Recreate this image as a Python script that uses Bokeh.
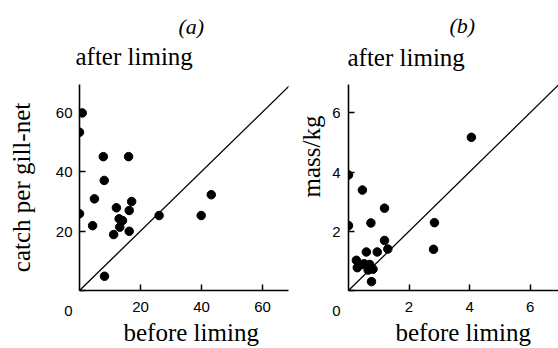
from bokeh.plotting import figure
from bokeh.models import Range1d, Title, FixedTicker
from bokeh.layouts import row
from bokeh.embed import file_html
from bokeh.resources import INLINE

# ---------------- data ----------------
# panel (a): catch per gill-net
xa = [0.9, 0.0, 7.8, 16.1, 8.1, 4.9, 0.0, 4.3, 12.1, 17.1, 16.3, 13.0, 14.1, 13.2, 11.2, 16.3, 26.1, 39.9, 43.2, 8.2]
ya = [59.7, 53.2, 45.0, 45.0, 37.0, 30.8, 25.8, 21.8, 27.8, 29.9, 26.9, 24.1, 23.5, 21.3, 18.8, 19.9, 25.2, 25.2, 32.2, 4.8]
ticks_a = [20, 40, 60]

# panel (b): mass / kg
xb = [4.06, 0.0, 0.46, 1.19, 0.74, 0.0, 2.84, 1.19, 1.30, 2.81, 0.59, 0.95,
      0.26, 0.29, 0.46, 0.70, 0.65, 0.81, 0.76, 0.52]
yb = [5.17, 3.90, 3.39, 2.78, 2.28, 2.19, 2.29, 1.69, 1.40, 1.39, 1.30, 1.30,
      1.02, 0.77, 0.88, 0.88, 0.69, 0.72, 0.30, 0.90]
ticks_b = [2, 4, 6]

line_a = [0, 80]
line_b = [0, 8]

SERIF = "Liberation Serif"
SANS = "Liberation Sans"


def title(p, text, side, align, offset, standoff, size="25px", style="normal"):
    t = Title(text=text, align=align, offset=offset, standoff=standoff,
              text_font=SERIF, text_font_size=size, text_font_style=style,
              text_color="black")
    p.add_layout(t, side)


def make_panel(width, bl, br, bt, bb, xmax, ymax, xs, ys, ticks, line, ystandoff):
    p = figure(width=width, height=348, output_backend="svg", toolbar_location=None,
               title=None,
               x_range=Range1d(0, xmax), y_range=Range1d(0, ymax),
               min_border_left=bl, min_border_right=br,
               min_border_top=bt, min_border_bottom=bb)
    p.outline_line_color = None
    p.grid.visible = False
    p.background_fill_color = "white"
    p.border_fill_color = "white"
    p.xaxis[0].ticker = FixedTicker(ticks=ticks)
    p.yaxis[0].ticker = FixedTicker(ticks=[0] + ticks)
    p.yaxis[0].major_label_overrides = {0: "\n\n0"}
    for ax in (p.xaxis[0], p.yaxis[0]):
        ax.axis_line_width = 1.6
        ax.axis_line_color = "black"
        ax.major_tick_in = 6
        ax.major_tick_out = 0
        ax.major_tick_line_width = 1.5
        ax.major_tick_line_color = "black"
        ax.minor_tick_line_color = None
        ax.major_label_text_font = SANS
        ax.major_label_text_font_size = "15px"
        ax.major_label_text_color = "black"
    p.xaxis[0].major_label_standoff = 11
    p.yaxis[0].major_label_standoff = ystandoff
    p.line(line, line, line_color="black", line_width=1.3)
    p.scatter(xs, ys, size=8.5, fill_color="black", line_color="black")
    return p


# panel a: canvas 0..290, frame x 79..288, y 84..290
pa = make_panel(290, 79, 2, 84, 58, 209 / 3.05, 206 / 2.975, xa, ya, ticks_a, line_a, 7)
# panel b: canvas 290..558, frame x 346..558, y 80..290
pb = make_panel(268, 56, 0, 80, 58, 212 / 30.55, 210 / 30.2, xb, yb, ticks_b, line_b, 8)

# panel a texts
pa.yaxis[0].axis_label = "catch per gill-net"
pa.yaxis[0].axis_label_text_font = SERIF
pa.yaxis[0].axis_label_text_font_size = "25px"
pa.yaxis[0].axis_label_text_font_style = "normal"
pa.yaxis[0].axis_label_text_color = "black"
pa.yaxis[0].axis_label_standoff = 18
title(pa, "after liming", "above", "left", -4, 30)
title(pa, "(a)", "above", "left", 99, -26, size="22px", style="italic")
title(pa, "before liming", "below", "left", 44, 5)

# panel b texts
title(pb, "after liming", "above", "left", -1, 28)
title(pb, "(b)", "above", "left", 101, -20, size="22px", style="italic")
title(pb, "mass/kg", "left", "left", 93, 10)
title(pb, "before liming", "below", "left", 47, 5)

layout = row(pa, pb)
open("out.html", "w").write(file_html(layout, INLINE))
